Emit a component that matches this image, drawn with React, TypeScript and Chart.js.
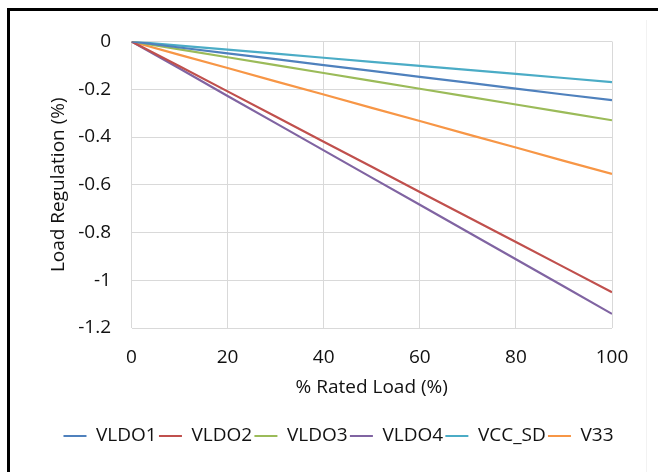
import { useEffect, useRef } from "react";
import { Chart, registerables } from "chart.js";

Chart.register(...registerables);

const loadPct = [0, 10, 20, 30, 40, 50, 60, 70, 80, 90, 100];
const seriesNames = ["VLDO1", "VLDO2", "VLDO3", "VLDO4", "VCC_SD", "V33"];
const vldo1 = [0, -0.025, -0.05, -0.074, -0.099, -0.123, -0.148, -0.172, -0.197, -0.222, -0.246];
const vldo2 = [0, -0.104, -0.209, -0.314, -0.42, -0.525, -0.63, -0.735, -0.84, -0.945, -1.05];
const vldo3 = [0, -0.033, -0.066, -0.099, -0.132, -0.165, -0.198, -0.231, -0.264, -0.297, -0.33];
const vldo4 = [0, -0.113, -0.228, -0.342, -0.456, -0.57, -0.684, -0.798, -0.912, -1.026, -1.141];
const vccSd = [0, -0.017, -0.034, -0.051, -0.068, -0.085, -0.102, -0.119, -0.136, -0.153, -0.17];
const v33 = [0, -0.056, -0.111, -0.167, -0.222, -0.278, -0.333, -0.389, -0.444, -0.5, -0.555];
const seriesValues = [vldo1, vldo2, vldo3, vldo4, vccSd, v33];
const seriesColors = ["#4F81BD", "#C0504D", "#9BBB59", "#8064A2", "#4BACC6", "#F79646"];

const xTickValues = [0, 20, 40, 60, 80, 100];
const xTickLabels = ["0", "20", "40", "60", "80", "100"];
const yTickValues = [0, -0.2, -0.4, -0.6, -0.8, -1, -1.2];
const yTickLabels = ["0", "-0.2", "-0.4", "-0.6", "-0.8", "-1", "-1.2"];

const xTitle = "% Rated Load (%)";
const yTitle = "Load Regulation (%)";

const FONT = "'Open Sans', sans-serif";
const FS = 19;

function labelFor(values: number[], labels: string[], v: number) {
  const i = values.findIndex((t) => Math.abs(t - v) < 1e-6);
  return i >= 0 ? labels[i] : "";
}

export default function App() {
  const ref = useRef<HTMLCanvasElement | null>(null);

  useEffect(() => {
    if (!ref.current) return;
    const datasets = seriesNames.map((name, si) => ({
      label: name,
      data: loadPct.map((x, i) => ({ x, y: seriesValues[si][i] })),
      borderColor: seriesColors[si],
      backgroundColor: seriesColors[si],
      borderWidth: 2.2,
      pointRadius: 0,
      tension: 0,
      fill: false,
    }));

    const chart = new Chart(ref.current, {
      type: "line",
      data: { datasets },
      options: {
        animation: false,
        responsive: false,
        maintainAspectRatio: false,
        color: "#111",
        font: { family: FONT, size: FS },
        layout: { padding: { left: 19, right: 0, top: 41.5, bottom: 16.5 } },
        plugins: {
          tooltip: { enabled: false },
          legend: {
            position: "bottom",
            labels: {
              boxWidth: 23,
              boxHeight: 2,
              padding: 2.3,
              color: "#111",
              font: { family: FONT, size: FS },
              generateLabels: (c: any) =>
                Chart.defaults.plugins.legend.labels
                  .generateLabels(c)
                  .map((l: any) => ({ ...l, lineWidth: 0, fillStyle: l.strokeStyle })),
            },
          },
        },
        scales: {
          x: {
            type: "linear",
            min: 0,
            max: 100,
            afterFit: (s: any) => {
              s.height = 96.2;
            },
            afterBuildTicks: (s: any) => {
              s.ticks = xTickValues.map((v) => ({ value: v }));
            },
            ticks: {
              padding: 17.9,
              color: "#111",
              font: { family: FONT, size: FS },
              maxRotation: 0,
              callback: (v: any) => labelFor(xTickValues, xTickLabels, Number(v)),
            },
            grid: { color: "#d9d9d9", lineWidth: 1, drawTicks: false },
            border: { display: false },
            title: {
              display: true,
              text: xTitle,
              color: "#111",
              font: { family: FONT, size: FS },
              padding: { top: 0, bottom: 24.8 },
            },
          },
          y: {
            type: "linear",
            position: "left",
            min: -1.2,
            max: 0,
            afterFit: (s: any) => {
              s.width = 112.5;
            },
            afterBuildTicks: (s: any) => {
              s.ticks = yTickValues
                .slice()
                .reverse()
                .map((v) => ({ value: v }));
            },
            ticks: {
              padding: 20.5,
              color: "#111",
              font: { family: FONT, size: FS },
              callback: (v: any) => labelFor(yTickValues, yTickLabels, Number(v)),
            },
            grid: { color: "#d9d9d9", lineWidth: 1, drawTicks: false },
            border: { display: false },
            title: {
              display: true,
              text: yTitle,
              color: "#111",
              font: { family: FONT, size: FS },
              padding: { top: 28.6, bottom: 0 },
            },
          },
          yR: {
            type: "linear",
            position: "right",
            display: true,
            afterFit: (s: any) => {
              s.width = 46;
            },
            ticks: { display: false },
            grid: { display: false, drawTicks: false },
            border: { display: false },
          },
        },
      } as any,
    });
    return () => chart.destroy();
  }, []);

  return (
    <>
      <div
        style={{
          position: "fixed",
          left: 7,
          top: 8,
          width: 800,
          height: 800,
          borderTop: "3px solid #000",
          borderLeft: "3px solid #000",
          boxSizing: "border-box",
        }}
      />
      <div
        style={{
          position: "fixed",
          left: 646,
          top: 20,
          width: 1,
          height: 460,
          background: "#f2f2f2",
        }}
      />
      <canvas
        ref={ref}
        width={658}
        height={472}
        style={{ position: "fixed", left: 0, top: 0, width: 658, height: 472 }}
      />
    </>
  );
}
